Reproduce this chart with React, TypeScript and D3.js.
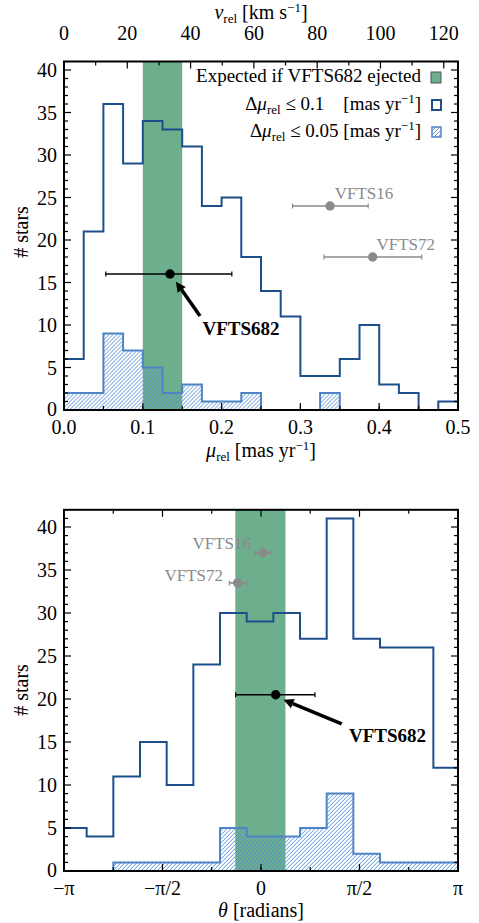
import React from 'react';
import * as d3 from 'd3';

// top panel: proper motion histograms (bins of 0.025 mas/yr from 0 to 0.5)
const muBinWidth = 0.025;
const muAll = [6, 21, 36, 29, 34, 33, 31, 24, 25, 18, 14, 11, 4, 4, 6, 10, 3, 2, 0, 1];
const muStrict = [2, 2, 9, 7, 5, 2, 3, 1, 1, 2, 0, 0, 0, 2, 0, 0, 0, 0, 0, 0];
const muBand = [0.1, 0.15];
const muTicks = [0, 0.1, 0.2, 0.3, 0.4, 0.5];
const muTickLabels = ['0.0', '0.1', '0.2', '0.3', '0.4', '0.5'];
const vTicks = [0, 20, 40, 60, 80, 100, 120];
const kmsPerMas = 249;

// bottom panel: direction histograms
const thStart = -3.2054;
const thBinWidth = 0.4253;
const thAll = [5, 4, 11, 15, 10, 24, 30, 29, 30, 27, 41, 27, 26, 26, 12];
const thStrict = [0, 0, 1, 1, 1, 1, 5, 4, 4, 5, 9, 2, 1, 1, 1];
const thBand = [-0.41, 0.39];
const thTicks = [-Math.PI, -Math.PI / 2, 0, Math.PI / 2, Math.PI];
const thTickLabels = ['−π', '−π/2', '0', 'π/2', 'π'];

// stars with x error ranges
const muStars = [
  { name: 'VFTS682', x: 0.1345, y: 16, lo: 0.053, hi: 0.213 },
  { name: 'VFTS16', x: 0.3376, y: 24, lo: 0.29, hi: 0.386 },
  { name: 'VFTS72', x: 0.3917, y: 18, lo: 0.33, hi: 0.454 },
];
const thStars = [
  { name: 'VFTS682', x: 0.234, y: 20.5, lo: -0.404, hi: 0.861 },
  { name: 'VFTS16', x: 0.032, y: 37, lo: -0.096, hi: 0.155 },
  { name: 'VFTS72', x: -0.372, y: 33.5, lo: -0.505, hi: -0.228 },
];

const GREEN = '#6daf8d';
const DARK = '#1c4f8c';
const LIGHT = '#4f84c4';
const HATCH = '#4f8ad4';
const GRAY = '#8a8a8a';
const FONT = '"Liberation Serif", "DejaVu Serif", serif';
const NB = '\u00A0';

const L = 64, R = 458;

function stepPoints(start: number, width: number, vals: number[]) {
  const pts: [number, number][] = [[start, 0]];
  vals.forEach((v, i) => {
    pts.push([start + i * width, v]);
    pts.push([start + (i + 1) * width, v]);
  });
  pts.push([start + vals.length * width, 0]);
  return pts;
}

// diagonal "////" hatch lines covering a box, meant to be clipped
function Hatch({ x0, y0, x1, y1, clip }: any) {
  const h = y1 - y0;
  const ks = d3.range(x0 - h, x1, 4);
  return (
    <g clipPath={`url(#${clip})`}>
      {ks.map(k => (
        <line key={k} x1={k} y1={y1} x2={k + h} y2={y0} stroke={HATCH} strokeWidth={0.9} />
      ))}
    </g>
  );
}

function Panel(props: any) {
  const { x, y, id, start, width, all, strict, band, stars, top, bottom, minorX, majorX, tickLabels, arrow, label } = props;
  const line = d3.line<[number, number]>().x(d => x(d[0])).y(d => y(d[1]));
  const [y0, y1] = y.range();
  const yMaj = d3.range(0, y.domain()[1] + 0.01, 5);
  const yMin = d3.range(0, y.domain()[1] + 0.01, 1);
  const strictPath = line(stepPoints(start, width, strict)) + 'Z';
  return (
    <g>
      <defs>
        <clipPath id={'clip' + id}><rect x={L} y={y1} width={R - L} height={y0 - y1} /></clipPath>
        <clipPath id={'hclip' + id}><path d={strictPath} /></clipPath>
      </defs>
      <g clipPath={`url(#clip${id})`}>
        <rect x={x(band[0])} y={y1} width={x(band[1]) - x(band[0])} height={y0 - y1} fill={GREEN} />
        <Hatch x0={L - 10} y0={y1} x1={R + 10} y1={y0} clip={'hclip' + id} />
        <path d={strictPath} fill="none" stroke={LIGHT} strokeWidth={2} />
        <path d={line(stepPoints(start, width, all)) || ''} fill="none" stroke={DARK} strokeWidth={2} />
      </g>
      {/* y ticks, both sides */}
      {yMin.map(v => (
        <g key={'ym' + v}>
          <line x1={L} x2={L + (v % 5 === 0 ? 7 : 4)} y1={y(v)} y2={y(v)} stroke="#000" strokeWidth={1.2} />
          <line x1={R} x2={R - (v % 5 === 0 ? 7 : 4)} y1={y(v)} y2={y(v)} stroke="#000" strokeWidth={1.2} />
        </g>
      ))}
      {yMaj.map(v => (
        <text key={'yl' + v} x={57} y={y(v) - (v === 0 ? 1 : 0)} dy="0.35em" textAnchor="end" fontSize={20}>{v}</text>
      ))}
      {/* x ticks bottom */}
      {minorX.map((v: number) => (
        <line key={'xm' + v} x1={x(v)} x2={x(v)} y1={y0} y2={y0 - 4} stroke="#000" strokeWidth={1.2} />
      ))}
      {majorX.map((v: number, i: number) => (
        <g key={'xM' + v}>
          <line x1={x(v)} x2={x(v)} y1={y0} y2={y0 - 7} stroke="#000" strokeWidth={1.2} />
          <text x={x(v)} y={y0 + 24} textAnchor="middle" fontSize={20}>{tickLabels[i]}</text>
        </g>
      ))}
      {top}
      <rect x={L} y={y1} width={R - L} height={y0 - y1} fill="none" stroke="#000" strokeWidth={2} />
      {/* stars */}
      {stars.map((s: any, i: number) => {
        const c = i === 0 ? '#000' : GRAY;
        return (
          <g key={s.name}>
            <line x1={x(s.lo)} x2={x(s.hi)} y1={y(s.y)} y2={y(s.y)} stroke={c} strokeWidth={1.6} />
            <line x1={x(s.lo)} x2={x(s.lo)} y1={y(s.y) - 2.5} y2={y(s.y) + 2.5} stroke={c} strokeWidth={1.2} />
            <line x1={x(s.hi)} x2={x(s.hi)} y1={y(s.y) - 2.5} y2={y(s.y) + 2.5} stroke={c} strokeWidth={1.2} />
            <circle cx={x(s.x)} cy={y(s.y)} r={4.7} fill={c} />
          </g>
        );
      })}
      {label}
      {arrow}
      {bottom}
    </g>
  );
}

function Arrow({ x1, y1, x2, y2 }: any) {
  const ang = Math.atan2(y2 - y1, x2 - x1);
  const hl = 10, hw = 5;
  const bx = x2 - hl * Math.cos(ang), by = y2 - hl * Math.sin(ang);
  const px = -Math.sin(ang) * hw, py = Math.cos(ang) * hw;
  return (
    <g>
      <line x1={x1} y1={y1} x2={bx} y2={by} stroke="#000" strokeWidth={3.5} />
      <path d={`M${x2},${y2}L${bx + px},${by + py}L${bx - px},${by - py}Z`} fill="#000" />
    </g>
  );
}

export default function App() {
  const xMu = d3.scaleLinear().domain([0, 0.5]).range([L, R]);
  const yMu = d3.scaleLinear().domain([0, 41]).range([410, 61.5]);
  const xV = d3.scaleLinear().domain([0, 0.5 * kmsPerMas]).range([L, R]);
  const xTh = d3.scaleLinear().domain([-Math.PI, Math.PI]).range([L, R]);
  const yTh = d3.scaleLinear().domain([0, 42]).range([871, 509.8]);

  const sub = (t: string) => <tspan fontSize={13} dy={4} fontStyle="normal">{t}</tspan>;

  const topAxis = (
    <g>
      {d3.range(0, 121, 10).map(v => (
        <line key={'vt' + v} x1={xV(v)} x2={xV(v)} y1={61.5} y2={61.5 + (v % 20 === 0 ? 7 : 4)} stroke="#000" strokeWidth={1.2} />
      ))}
      {vTicks.map(v => (
        <text key={'vl' + v} x={xV(v)} y={40} textAnchor="middle" fontSize={20}>{v}</text>
      ))}
      <text x={261} y={19} textAnchor="middle" fontSize={20}>
        <tspan fontStyle="italic">v</tspan>{sub('rel')}<tspan dy={-4}> [km s</tspan>
        <tspan fontSize={13} dy={-7}>−1</tspan><tspan dy={7}>]</tspan>
      </text>
    </g>
  );

  const thMinor = d3.range(-4, 5).map(k => (k * Math.PI) / 4);
  const thTop = (
    <g>
      {thMinor.map((v, i) => (
        <line key={'tt' + i} x1={xTh(v)} x2={xTh(v)} y1={509.8} y2={509.8 + (i % 2 === 0 ? 7 : 4)} stroke="#000" strokeWidth={1.2} />
      ))}
    </g>
  );

  return (
    <svg width={479} height={923} style={{ position: 'absolute', left: 0, top: 0, fontFamily: FONT }}>
      <defs>
        <clipPath id="legclip"><rect x={432} y={127} width={9} height={10} /></clipPath>
      </defs>
      <rect width={479} height={923} fill="#fff" />

      <Panel
        id="mu" x={xMu} y={yMu} start={0} width={muBinWidth} all={muAll} strict={muStrict} band={muBand}
        stars={muStars} majorX={muTicks} tickLabels={muTickLabels}
        minorX={d3.range(0, 0.51, 0.05)} top={topAxis}
        label={
          <g>
            <text x={xMu(0.2246)} y={yMu(9.65) + 7} textAnchor="middle" fontSize={19} fontWeight="bold">VFTS682</text>
            <text x={xMu(0.3435)} y={199} fontSize={17} fill={GRAY}>VFTS16</text>
            <text x={xMu(0.3965)} y={250} fontSize={17} fill={GRAY}>VFTS72</text>
          </g>
        }
        arrow={<Arrow x1={xMu(0.1726)} y1={yMu(11.06)} x2={xMu(0.142)} y2={yMu(15.1)} />}
        bottom={
          <g>
            <text x={261} y={457} textAnchor="middle" fontSize={20}>
              <tspan fontStyle="italic">μ</tspan>{sub('rel')}<tspan dy={-4}> [mas yr</tspan>
              <tspan fontSize={13} dy={-7}>−1</tspan><tspan dy={7}>]</tspan>
            </text>
            <text transform="translate(28,232) rotate(-90)" textAnchor="middle" fontSize={20}># stars</text>
            {/* legend */}
            <g fontSize={19} textAnchor="end">
              <text x={421} y={82}>Expected if VFTS682 ejected</text>
              <text x={421} y={110}>
                Δ<tspan fontStyle="italic">μ</tspan><tspan fontSize={13} dy={4}>rel</tspan>
                <tspan dy={-4}>{`${NB}≤${NB}0.1${NB}${NB}${NB}${NB}[mas${NB}yr`}</tspan><tspan fontSize={13} dy={-7}>−1</tspan><tspan dy={7}>]</tspan>
              </text>
              <text x={421} y={137}>
                Δ<tspan fontStyle="italic">μ</tspan><tspan fontSize={13} dy={4}>rel</tspan>
                <tspan dy={-4}>{`${NB}≤${NB}0.05${NB}[mas${NB}yr`}</tspan><tspan fontSize={13} dy={-7}>−1</tspan><tspan dy={7}>]</tspan>
              </text>
            </g>
            <rect x={431} y={72} width={10} height={11} fill={GREEN} stroke="#555" strokeWidth={1} />
            <rect x={432} y={100} width={9} height={10} fill="#fff" stroke={DARK} strokeWidth={2} />
            <Hatch x0={428} y0={123} x1={445} y1={141} clip="legclip" />
            <rect x={432} y={127} width={9} height={10} fill="none" stroke={LIGHT} strokeWidth={1.5} />
          </g>
        }
      />

      <Panel
        id="th" x={xTh} y={yTh} start={thStart} width={thBinWidth} all={thAll} strict={thStrict} band={thBand}
        stars={thStars} majorX={thTicks} tickLabels={thTickLabels}
        minorX={thMinor} top={thTop}
        label={
          <g>
            <text x={xTh(2.017)} y={yTh(15.8) + 7} textAnchor="middle" fontSize={19} fontWeight="bold">VFTS682</text>
            <text x={251} y={549} textAnchor="end" fontSize={17} fill={GRAY}>VFTS16</text>
            <text x={223} y={581} textAnchor="end" fontSize={17} fill={GRAY}>VFTS72</text>
          </g>
        }
        arrow={<Arrow x1={xTh(1.287)} y1={yTh(17.1)} x2={xTh(0.36)} y2={yTh(19.9)} />}
        bottom={
          <g>
            <text x={261} y={917} textAnchor="middle" fontSize={20}>
              <tspan fontStyle="italic">θ</tspan> [radians]
            </text>
            <text transform="translate(28,690) rotate(-90)" textAnchor="middle" fontSize={20}># stars</text>
          </g>
        }
      />
    </svg>
  );
}
